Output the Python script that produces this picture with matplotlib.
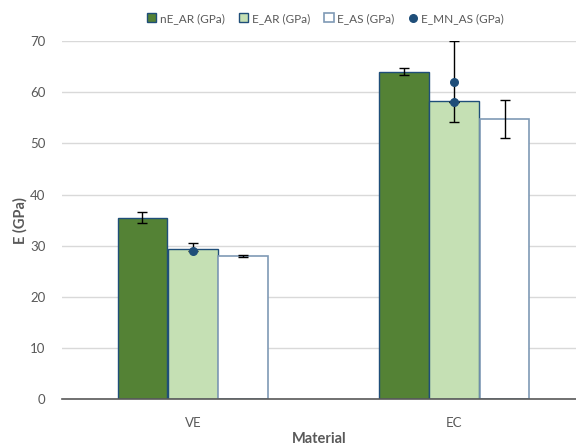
import numpy as np
import matplotlib
matplotlib.use("Agg")
from matplotlib import pyplot as plt

plt.rcParams['font.family'] = ['Lato', 'DejaVu Sans']

materials = ["VE", "EC"]
ne_ar = [35.5, 64.0]
ne_ar_err = [1.1, 0.7]
e_ar = [29.3, 58.2]
e_as = [27.95, 54.75]
e_as_err = [0.2, 3.75]

# E_MN_AS points: material index, value, lower err, upper err
mn_idx = [0, 1, 1]
mn_val = [29.0, 62.1, 58.1]
mn_err_lo = [0.0, 8.0, 0.0]
mn_err_hi = [1.6, 8.0, 0.0]

grey = "#595959"
dark_green = "#548235"
light_green = "#C5E0B4"
edge_blue = "#1F4E79"

fig = plt.figure(figsize=(5.76, 4.47), dpi=100)
ax = fig.add_axes([0.108, 0.107, 0.892, 0.801])

x = np.arange(len(materials))
w = 0.19
off = 0.193

ax.bar(x - off, ne_ar, w, color=dark_green, edgecolor=edge_blue, linewidth=1.0,
       yerr=ne_ar_err, capsize=3.5, error_kw=dict(elinewidth=1, ecolor="black", capthick=1),
       label="nE_AR (GPa)", zorder=2)
ax.bar(x, e_ar, w, color=light_green, edgecolor=edge_blue, linewidth=1.0,
       label="E_AR (GPa)", zorder=2)
ax.bar(x + off, e_as, w, color="white", edgecolor="#7F9AB5", linewidth=1.2,
       yerr=e_as_err, capsize=3.5, error_kw=dict(elinewidth=1, ecolor="black", capthick=1),
       label="E_AS (GPa)", zorder=2)
# legend proxy so the white box has the dark outline
ax.bar([np.nan], [np.nan], w, color="white", edgecolor=edge_blue, linewidth=1.0,
       label="_proxy")

mx = [x[i] for i in mn_idx]
ax.errorbar(mx, mn_val, yerr=[mn_err_lo, mn_err_hi], fmt="none", ecolor="black",
            elinewidth=1, capsize=3.5, capthick=1, zorder=3)
ax.scatter(mx, mn_val, s=30, color=edge_blue, zorder=4, label="E_MN_AS (GPa)")

ax.set_ylim(0, 70)
ax.set_xlim(-0.5, 1.466)
ax.set_yticks(range(0, 71, 10))
ax.set_xticks(x)
ax.set_xticklabels(materials)
ax.yaxis.grid(True, color="#D9D9D9", linewidth=1, zorder=0)
ax.set_axisbelow(True)
for s in ["top", "right", "left"]:
    ax.spines[s].set_visible(False)
ax.spines["bottom"].set_color("#595959")
ax.spines["bottom"].set_linewidth(1.2)
ax.tick_params(axis="both", length=0, colors=grey, labelsize=9.5)
ax.tick_params(axis="y", pad=12)
ax.tick_params(axis="x", pad=13)

ax.set_xlabel("Material", fontsize=10.5, fontweight="bold", color=grey, labelpad=2)
ax.set_ylabel("E (GPa)", fontsize=10.5, fontweight="bold", color=grey, labelpad=2)

h, l = ax.get_legend_handles_labels()
order = ["nE_AR (GPa)", "E_AR (GPa)", "E_AS (GPa)", "E_MN_AS (GPa)"]
hd = dict(zip(l, h))
hd["E_AS (GPa)"] = h[l.index("_proxy")] if "_proxy" in l else hd["E_AS (GPa)"]
leg = fig.legend([hd[k] for k in order], order, loc="upper center",
                 bbox_to_anchor=(0.565, 0.995), ncol=4, frameon=False, fontsize=8.5,
                 handlelength=0.8, handleheight=0.8, handletextpad=0.3, columnspacing=1.2)
for t in leg.get_texts():
    t.set_color(grey)

fig.savefig("out.png", dpi=100)
